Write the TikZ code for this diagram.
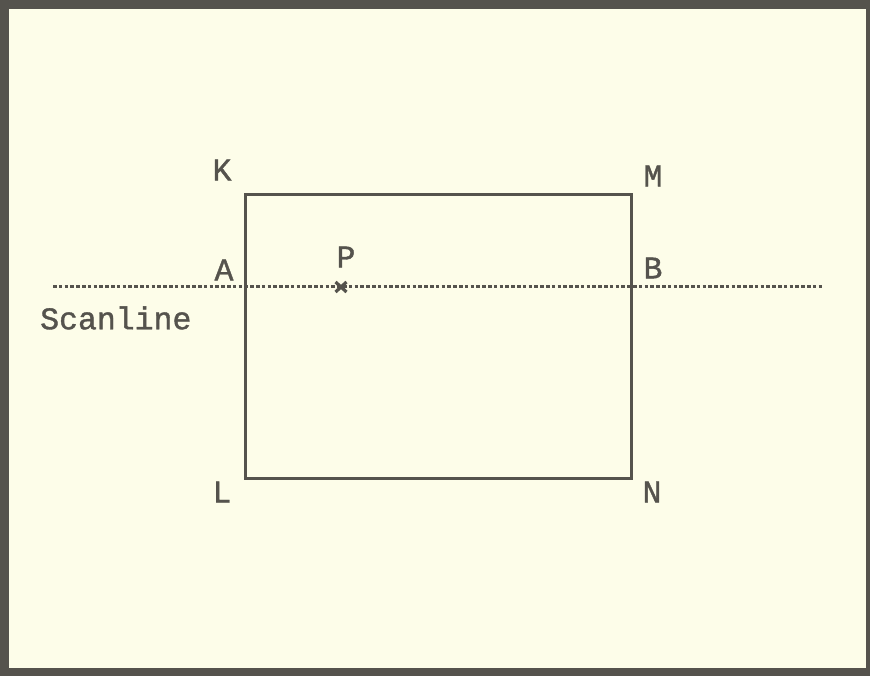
\documentclass[tikz,border=0pt]{standalone}
\usepackage{fontspec}
\setmonofont[AutoFakeBold=1.2]{Liberation Mono}
\usetikzlibrary{calc}
\definecolor{bg}{HTML}{FDFDE9}
\definecolor{ink}{HTML}{55534D}
\begin{document}
\begin{tikzpicture}[x=1pt,y=-1pt,
  lbl/.style={text=ink,font=\ttfamily\bfseries\fontsize{31.5}{33}\selectfont,inner sep=0pt,anchor=center},
  edge/.style={draw=ink,line width=3pt},
  scan/.style={draw=ink,line width=3pt,dash pattern=on 3.6pt off 2.2pt}]
\useasboundingbox (0,0) rectangle (870,676);
\fill[ink] (0,0) rectangle (870,676);
\fill[bg] (9,9) rectangle (866,668);
% rectangle corners
\coordinate (k) at (245,195);
\coordinate (m) at (631,195);
\coordinate (n) at (631,478);
\coordinate (l) at (245,478);
\draw[edge] (k) -- (m) -- (n) -- (l) -- cycle;
% scanline
\coordinate (s0) at (53,287);
\coordinate (s1) at (822,287);
\draw[scan] (s0) -- (s1);
% point P
\coordinate (p) at (341,287);
\draw[ink,line width=3.2pt] ($(p)+(-5.5,-5)$) -- ($(p)+(5.5,5)$) ($(p)+(-5.5,5)$) -- ($(p)+(5.5,-5)$);
% labels
\node[lbl] (K) at (222,170) {K};
\node[lbl] (M) at (653,176) {M};
\node[lbl] (A) at (224,270) {A};
\node[lbl] (P) at (346,257) {P};
\node[lbl] (B) at (653,268) {B};
\node[lbl,anchor=west] (S) at (40,318) {Scanline};
\node[lbl] (L) at (222,492) {L};
\node[lbl] (N) at (652,492) {N};
\end{tikzpicture}
\end{document}
